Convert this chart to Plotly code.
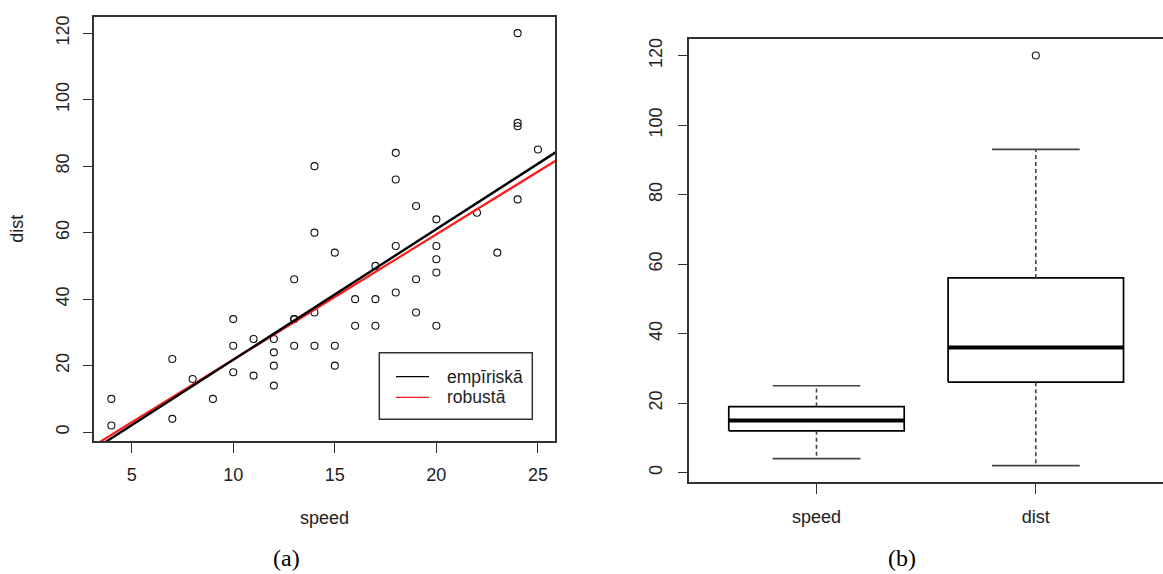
import numpy as np
import plotly.graph_objects as go

# cars data: stopping distance vs speed
speed = [4, 4, 7, 7, 8, 9, 10, 10, 10, 11, 11, 12, 12, 12, 12, 13, 13, 13, 13,
         14, 14, 14, 14, 15, 15, 15, 16, 16, 17, 17, 17, 18, 18, 18, 18, 19, 19,
         19, 20, 20, 20, 20, 20, 22, 23, 24, 24, 24, 24, 25]
dist = [2, 10, 4, 22, 16, 10, 18, 26, 34, 17, 28, 14, 20, 24, 28, 26, 34, 34, 46,
        26, 36, 60, 80, 20, 26, 54, 32, 40, 32, 40, 50, 42, 56, 76, 84, 36, 46,
        68, 32, 48, 52, 56, 64, 66, 54, 70, 92, 93, 120, 85]

# regression lines (intercept, slope)
fit_names = ["empīriskā", "robustā"]
fit_intercepts = [-17.579, -15.9]
fit_slopes = [3.932, 3.77]
fit_colors = ["#000000", "#ff1a1a"]

# box plot summaries
box_labels = ["speed", "dist"]
box_lower = [4, 2]
box_q1 = [12, 26]
box_median = [15, 36]
box_q3 = [19, 56]
box_upper = [25, 93]
box_outliers = [[], [120]]

x_ticks = [5, 10, 15, 20, 25]
y_ticks = [0, 20, 40, 60, 80, 100, 120]

W, H = 1163, 574
FONT = "Liberation Sans, Arial, sans-serif"
SERIF = "Liberation Serif, Times New Roman, serif"
TXT = "#222222"
AX = "#333333"


def px_x(p):
    return p / W


def px_y(p):
    return 1 - p / H


def pad(lo, hi, f=0.04):
    d = (hi - lo) * f
    return [lo - d, hi + d]


xr = pad(min(speed), max(speed))
yr = pad(min(dist), max(dist))

fig = go.Figure()

# --- (a) scatter with fitted lines ---
fig.add_trace(go.Scatter(
    x=speed, y=dist, mode="markers", showlegend=False,
    marker=dict(symbol="circle-open", size=7, color="#111111",
                line=dict(width=1.1, color="#111111")),
    xaxis="x", yaxis="y", hoverinfo="x+y"))

xl = np.array([xr[0] - 1, xr[1] + 1])
for i in [1, 0]:
    fig.add_trace(go.Scatter(
        x=xl, y=fit_intercepts[i] + fit_slopes[i] * xl, mode="lines",
        name=fit_names[i], showlegend=False,
        line=dict(color=fit_colors[i], width=2.4 if i == 0 else 2.2),
        xaxis="x", yaxis="y"))

# --- (b) box plots drawn from the summary numbers ---
for i, lab in enumerate(box_labels):
    c = i + 1
    hw, cw = 0.4, 0.2
    fig.add_trace(go.Scatter(
        x=[c - hw, c + hw, c + hw, c - hw, c - hw],
        y=[box_q1[i], box_q1[i], box_q3[i], box_q3[i], box_q1[i]],
        mode="lines", line=dict(color="#000000", width=1.7),
        showlegend=False, xaxis="x2", yaxis="y2", hoverinfo="skip"))
    fig.add_trace(go.Scatter(
        x=[c - hw, c + hw], y=[box_median[i], box_median[i]],
        mode="lines", line=dict(color="#000000", width=4),
        showlegend=False, xaxis="x2", yaxis="y2", hoverinfo="skip"))
    fig.add_trace(go.Scatter(
        x=[c, c, None, c, c],
        y=[box_q3[i], box_upper[i], None, box_q1[i], box_lower[i]],
        mode="lines", line=dict(color="#444444", width=1.6, dash="4px,3px"),
        showlegend=False, xaxis="x2", yaxis="y2", hoverinfo="skip"))
    fig.add_trace(go.Scatter(
        x=[c - cw, c + cw, None, c - cw, c + cw],
        y=[box_upper[i], box_upper[i], None, box_lower[i], box_lower[i]],
        mode="lines", line=dict(color="#444444", width=1.6),
        showlegend=False, xaxis="x2", yaxis="y2", hoverinfo="skip"))
    if box_outliers[i]:
        fig.add_trace(go.Scatter(
            x=[c] * len(box_outliers[i]), y=box_outliers[i], mode="markers",
            marker=dict(symbol="circle-open", size=7, color="#111111",
                        line=dict(width=1.1, color="#111111")),
            showlegend=False, xaxis="x2", yaxis="y2"))

axis_common = dict(
    showline=True, linecolor=AX, linewidth=1.5,
    ticks="outside", ticklen=10, tickwidth=1.3, tickcolor=AX,
    showgrid=False, zeroline=False,
    tickfont=dict(family=FONT, size=18, color=TXT))


def note(text, x, y, size=18, family=FONT, color=TXT, angle=0, xanchor="center"):
    return dict(text=text, x=px_x(x), y=px_y(y), xref="paper", yref="paper",
                showarrow=False, xanchor=xanchor, yanchor="middle",
                textangle=angle, font=dict(family=family, size=size, color=color))


# legend box for panel (a)
shapes = [dict(type="rect", xref="paper", yref="paper",
               x0=px_x(379.3), x1=px_x(532.3), y0=px_y(418.7), y1=px_y(352),
               line=dict(color=AX, width=1.5), fillcolor="white", layer="above")]
annotations = []
legend_rows = [376, 396.7]
for i, row in enumerate(legend_rows):
    shapes.append(dict(type="line", xref="paper", yref="paper",
                       x0=px_x(396), x1=px_x(429), y0=px_y(row), y1=px_y(row),
                       line=dict(color=fit_colors[i], width=1.3), layer="above"))
    annotations.append(note(fit_names[i], 445.0, row, size=17.5, xanchor="left"))

annotations += [
    note("speed", 324, 518),
    note("dist", 17.5, 228, angle=-90),
    note("(a)", 286, 558, size=24, family=SERIF, color="#000000"),
    note("(b)", 902, 558, size=24, family=SERIF, color="#000000"),
]

fig.update_layout(
    width=W, height=H, margin=dict(l=0, r=0, t=0, b=0),
    paper_bgcolor="white", plot_bgcolor="white", showlegend=False,
    xaxis=dict(domain=[px_x(94.3), px_x(555)], range=xr, anchor="y",
               tickvals=x_ticks, ticklabelstandoff=6, mirror=True, **axis_common),
    yaxis=dict(domain=[px_y(440.7), px_y(15.5)], range=yr, anchor="x",
               tickvals=y_ticks, tickangle=-90, ticklabelstandoff=6,
               mirror=True, **axis_common),
    xaxis2=dict(domain=[px_x(689.3), 1.0], range=[0.42, 2.58], anchor="y2",
                tickvals=[1, 2], ticktext=box_labels, ticklabelstandoff=8,
                mirror=True, **axis_common),
    yaxis2=dict(domain=[px_y(481.7), px_y(37.3)], range=yr, anchor="x2",
                tickvals=y_ticks, tickangle=-90, ticklabelstandoff=8,
                mirror=False, **axis_common),
    shapes=shapes,
    annotations=annotations,
)

fig.write_html("out.html")
